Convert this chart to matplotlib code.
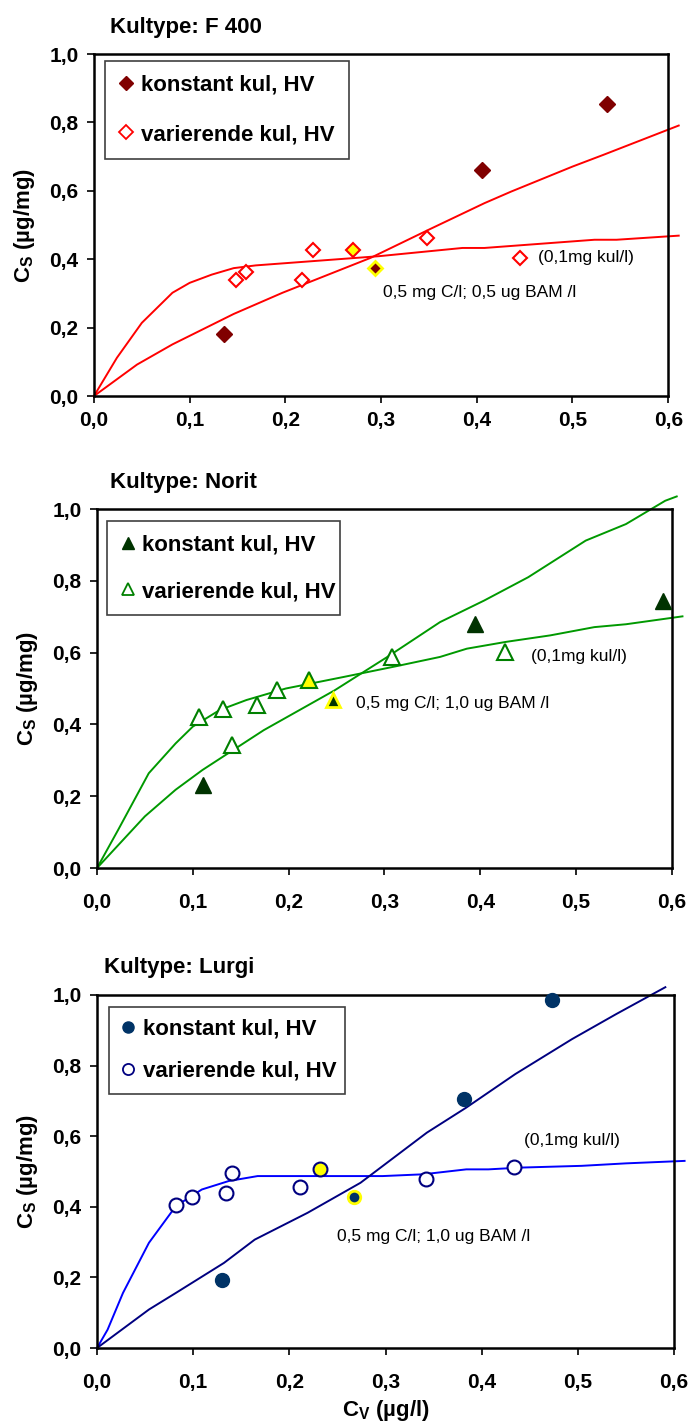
import matplotlib
matplotlib.use('Agg')
import matplotlib.pyplot as plt
from matplotlib.lines import Line2D

plt.rcParams['font.family'] = ['Liberation Sans', 'DejaVu Sans']

## Data
# F 400
f400_konst_x = [0.136, 0.405, 0.536]
f400_konst_y = [0.182, 0.660, 0.853]
f400_konst_mark_x = [0.294]
f400_konst_mark_y = [0.375]
f400_var_x = [0.1485, 0.159, 0.217, 0.229, 0.348, 0.445]
f400_var_y = [0.338, 0.362, 0.340, 0.428, 0.462, 0.404]
f400_var_mark_x = [0.271]
f400_var_mark_y = [0.428]
f400_fitA_x = [0.0, 0.024, 0.050, 0.082, 0.100, 0.123, 0.146, 0.169, 0.298, 0.385, 0.408, 0.523, 0.546, 0.611]
f400_fitA_y = [0.0, 0.112, 0.214, 0.302, 0.331, 0.355, 0.374, 0.382, 0.409, 0.433, 0.433, 0.457, 0.457, 0.469]
f400_fitB_x = [0.0, 0.045, 0.082, 0.146, 0.197, 0.289, 0.351, 0.408, 0.436, 0.500, 0.532, 0.611]
f400_fitB_y = [0.0, 0.092, 0.151, 0.240, 0.302, 0.404, 0.488, 0.564, 0.598, 0.671, 0.705, 0.791]

# Norit
norit_konst_x = [0.1105, 0.394, 0.591]
norit_konst_y = [0.231, 0.679, 0.744]
norit_konst_mark_x = [0.246]
norit_konst_mark_y = [0.469]
norit_var_x = [0.106, 0.132, 0.167, 0.188, 0.141, 0.308, 0.426]
norit_var_y = [0.421, 0.444, 0.454, 0.495, 0.343, 0.588, 0.602]
norit_var_mark_x = [0.221]
norit_var_mark_y = [0.525]
norit_fitA_x = [0.0, 0.022, 0.054, 0.082, 0.100, 0.128, 0.156, 0.197, 0.257, 0.312, 0.358, 0.386, 0.427, 0.473, 0.519, 0.552, 0.611]
norit_fitA_y = [0.0, 0.106, 0.264, 0.347, 0.394, 0.440, 0.468, 0.500, 0.532, 0.562, 0.588, 0.611, 0.630, 0.648, 0.671, 0.679, 0.701]
norit_fitB_x = [0.0, 0.050, 0.082, 0.110, 0.174, 0.248, 0.303, 0.358, 0.404, 0.450, 0.510, 0.552, 0.593, 0.605]
norit_fitB_y = [0.0, 0.144, 0.218, 0.273, 0.384, 0.495, 0.588, 0.685, 0.745, 0.810, 0.912, 0.958, 1.023, 1.035]

# Lurgi
lurgi_konst_x = [0.130, 0.382, 0.473]
lurgi_konst_y = [0.194, 0.705, 0.985]
lurgi_konst_mark_x = [0.267]
lurgi_konst_mark_y = [0.428]
lurgi_var_x = [0.082, 0.099, 0.134, 0.140, 0.211, 0.342, 0.434]
lurgi_var_y = [0.404, 0.429, 0.438, 0.495, 0.457, 0.480, 0.513]
lurgi_var_mark_x = [0.232]
lurgi_var_mark_y = [0.506]
lurgi_fitA_x = [0.0, 0.011, 0.027, 0.054, 0.082, 0.109, 0.137, 0.167, 0.297, 0.339, 0.384, 0.407, 0.440, 0.504, 0.550, 0.611]
lurgi_fitA_y = [0.0, 0.052, 0.156, 0.298, 0.402, 0.449, 0.473, 0.487, 0.487, 0.492, 0.506, 0.506, 0.511, 0.516, 0.523, 0.530]
lurgi_fitB_x = [0.0, 0.054, 0.082, 0.132, 0.164, 0.219, 0.274, 0.343, 0.384, 0.435, 0.494, 0.540, 0.591]
lurgi_fitB_y = [0.0, 0.109, 0.156, 0.241, 0.307, 0.383, 0.468, 0.610, 0.681, 0.776, 0.875, 0.946, 1.022]

x_ticks = [0.0, 0.1, 0.2, 0.3, 0.4, 0.5, 0.6]
x_ticklabels = ['0,0', '0,1', '0,2', '0,3', '0,4', '0,5', '0,6']
y_ticks = [0.0, 0.2, 0.4, 0.6, 0.8, 1.0]
y_ticklabels = ['0,0', '0,2', '0,4', '0,6', '0,8', '1,0']
legend_labels = ['konstant kul, HV', 'varierende kul, HV']

panels = [
    dict(title='Kultype: F 400', rect=[0.136, 0.7217, 0.831, 0.2403], title_xy=(110, 27),
         konst=(f400_konst_x, f400_konst_y), konst_mark=(f400_konst_mark_x, f400_konst_mark_y),
         var=(f400_var_x, f400_var_y), var_mark=(f400_var_mark_x, f400_var_mark_y),
         fitA=(f400_fitA_x, f400_fitA_y), fitB=(f400_fitB_x, f400_fitB_y),
         marker='D', ms_k=8, ms_v=7.5, ms_leg=7, c_fill='#800000', c_open='#FF0000',
         c_lineA='#FF0000', c_lineB='#FF0000',
         note1=(0.464, 0.406), note2=(0.302, 0.302), note2_txt='0,5 mg C/l; 0,5 ug BAM /l',
         leg=(0.0115, 0.696, 0.255, 0.285), lspace=1.29, bpad=0.62, xpad=6),
    dict(title='Kultype: Norit', rect=[0.1404, 0.3900, 0.832, 0.2523], title_xy=(110, 482),
         konst=(norit_konst_x, norit_konst_y), konst_mark=(norit_konst_mark_x, norit_konst_mark_y),
         var=(norit_var_x, norit_var_y), var_mark=(norit_var_mark_x, norit_var_mark_y),
         fitA=(norit_fitA_x, norit_fitA_y), fitB=(norit_fitB_x, norit_fitB_y),
         marker='^', ms_k=11.5, ms_v=11.5, ms_leg=9, c_fill='#003300', c_open='#008000',
         c_lineA='#009900', c_lineB='#009900',
         note1=(0.453, 0.590), note2=(0.270, 0.458), note2_txt='0,5 mg C/l; 1,0 ug BAM /l',
         leg=(0.0106, 0.706, 0.243, 0.260), lspace=1.15, bpad=0.6, xpad=13),
    dict(title='Kultype: Lurgi', rect=[0.1404, 0.0527, 0.835, 0.2481], title_xy=(104, 967),
         konst=(lurgi_konst_x, lurgi_konst_y), konst_mark=(lurgi_konst_mark_x, lurgi_konst_mark_y),
         var=(lurgi_var_x, lurgi_var_y), var_mark=(lurgi_var_mark_x, lurgi_var_mark_y),
         fitA=(lurgi_fitA_x, lurgi_fitA_y), fitB=(lurgi_fitB_x, lurgi_fitB_y),
         marker='o', ms_k=10, ms_v=10, ms_leg=8, c_fill='#003366', c_open='#000080',
         c_lineA='#0000FF', c_lineB='#000080',
         note1=(0.444, 0.587), note2=(0.250, 0.317), note2_txt='0,5 mg C/l; 1,0 ug BAM /l',
         leg=(0.0128, 0.726, 0.245, 0.241), lspace=0.97, bpad=0.53, xpad=13),
]

fig = plt.figure(figsize=(6.91, 14.23), dpi=100)

for i, p in enumerate(panels):
    ax = fig.add_axes(p['rect'])
    ax.set_xlim(0, 0.6)
    ax.set_ylim(0, 1.0)

    ax.plot(*p['fitA'], color=p['c_lineA'], lw=1.4, clip_on=False, zorder=2)
    ax.plot(*p['fitB'], color=p['c_lineB'], lw=1.4, clip_on=False, zorder=2)

    m = p['marker']
    ax.plot(*p['konst'], ls='none', marker=m, ms=p['ms_k'], mfc=p['c_fill'], mec=p['c_fill'], zorder=3, clip_on=False)
    ax.plot(*p['konst_mark'], ls='none', marker=m, ms=p['ms_k'] - 1, mfc=p['c_fill'], mec='#FFFF00', mew=2, zorder=3)
    ax.plot(*p['var'], ls='none', marker=m, ms=p['ms_v'], mfc='white', mec=p['c_open'], mew=1.5, zorder=3)
    ax.plot(*p['var_mark'], ls='none', marker=m, ms=p['ms_v'], mfc='#FFFF00', mec=p['c_open'], mew=1.5, zorder=3)

    ax.text(p['note1'][0], p['note1'][1], '(0,1mg kul/l)', fontsize=12.5, va='center', ha='left')
    ax.text(p['note2'][0], p['note2'][1], p['note2_txt'], fontsize=12.5, va='center', ha='left')

    # legend box
    lx, ly, lw_, lh = p['leg']
    handles = [Line2D([], [], ls='none', marker=m, ms=p['ms_leg'], mfc=p['c_fill'], mec=p['c_fill']),
               Line2D([], [], ls='none', marker=m, ms=p['ms_leg'], mfc='white', mec=p['c_open'], mew=1.3)]
    leg = ax.legend(handles, legend_labels,
                    loc='upper left', bbox_to_anchor=(lx / 0.6, ly, lw_ / 0.6, lh),
                    mode='expand', borderaxespad=0, fancybox=False, frameon=True, framealpha=1,
                    prop=dict(weight='bold', size=16), labelspacing=p['lspace'],
                    handlelength=0.65, handletextpad=0.33, borderpad=p['bpad'])
    leg.get_frame().set_edgecolor('#404040')
    leg.get_frame().set_linewidth(1.2)
    leg.set_zorder(5)

    ax.set_xticks(x_ticks)
    ax.set_yticks(y_ticks)
    ax.set_xticklabels(x_ticklabels, fontsize=15, fontweight='bold')
    ax.set_yticklabels(y_ticklabels, fontsize=15, fontweight='bold')
    ax.tick_params(axis='y', direction='out', length=5, width=1.2, pad=6)
    ax.tick_params(axis='x', direction='out', length=5, width=1.2, pad=p['xpad'])
    for s in ax.spines.values():
        s.set_linewidth(1.8)

    ax.set_ylabel(r'C$_\mathregular{S}$ (µg/mg)', fontsize=16, fontweight='bold', labelpad=9)
    if i == 2:
        ax.set_xlabel(r'C$_\mathregular{V}$ (µg/l)', fontsize=16, fontweight='bold', labelpad=4)

    fig.text(p['title_xy'][0] / 691, 1 - p['title_xy'][1] / 1423, p['title'], fontsize=16,
             fontweight='bold', va='center', ha='left')

fig.savefig('out.png', dpi=100)
